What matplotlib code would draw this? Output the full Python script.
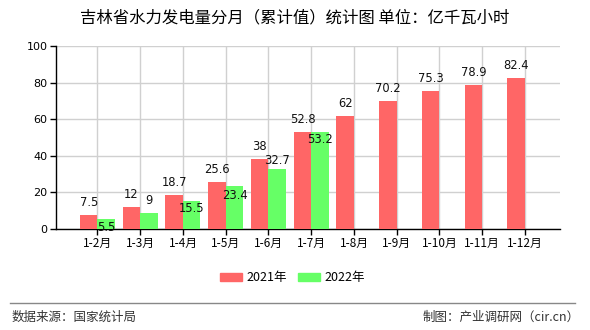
import matplotlib
matplotlib.use("Agg")
import matplotlib.pyplot as plt
import numpy as np
from matplotlib.patches import Rectangle
from matplotlib.lines import Line2D

plt.rcParams['font.family'] = ['Noto Sans CJK SC', 'DejaVu Sans']

# Data: cumulative hydropower generation, 100 million kWh
categories = ["1-2月", "1-3月", "1-4月", "1-5月", "1-6月", "1-7月",
              "1-8月", "1-9月", "1-10月", "1-11月", "1-12月"]
values_2021 = [7.5, 12, 18.7, 25.6, 38, 52.8, 62, 70.2, 75.3, 78.9, 82.4]
values_2022 = [5.5, 9, 15.5, 23.4, 32.7, 53.2]
series_names = ["2021年", "2022年"]
yticks = [0, 20, 40, 60, 80, 100]

# Label placement (points, positive = above bar top) to keep labels apart
off_2021 = [12] * len(values_2021)
off_2022 = [-8, 12, -8, -9, 8, -8]

RED = "#ff6666"
GREEN = "#66ff66"

fig = plt.figure(figsize=(5.9, 3.3), dpi=100)
W, H = 590, 330
ax = fig.add_axes([56 / W, 1 - 229 / H, (560 - 56) / W, (229 - 46) / H])

x = np.arange(len(categories))
bw = 0.41
ax.bar(x[:len(values_2021)] - bw / 2, values_2021, bw, color=RED, zorder=3)
ax.bar(x[:len(values_2022)] + bw / 2, values_2022, bw, color=GREEN, zorder=3)

for xi, v, o in zip(x, values_2021, off_2021):
    ax.annotate(f"{v:g}", (xi - bw / 2, v), xytext=(0, o * 0.75),
                textcoords="offset points", ha="center", va="center",
                fontsize=8.3, family="DejaVu Sans", color="#111111", zorder=5)
for xi, v, o in zip(x, values_2022, off_2022):
    ax.annotate(f"{v:g}", (xi + bw / 2, v), xytext=(0, o * 0.75),
                textcoords="offset points", ha="center", va="center",
                fontsize=8.3, family="DejaVu Sans", color="#111111", zorder=5)

ax.set_xlim(-0.97, 10.82)
ax.set_ylim(0, 100)
ax.set_yticks(yticks)
ax.set_yticklabels([str(t) for t in yticks], fontsize=8, family="DejaVu Sans")
ax.set_xticks(x)
ax.set_xticklabels(categories, fontsize=8.5)
ax.grid(True, color="#d0d0d0", linewidth=1, zorder=0)
ax.set_axisbelow(True)
for s in ["top", "right"]:
    ax.spines[s].set_visible(False)
for s in ["left", "bottom"]:
    ax.spines[s].set_color("#000000")
    ax.spines[s].set_linewidth(1)
ax.tick_params(axis="both", length=4, width=1, color="#000000", pad=2)

fig.text(295 / W, 1 - 18 / H, "吉林省水力发电量分月（累计值）统计图 单位：亿千瓦小时",
         ha="center", va="center", fontsize=11.8, color="#000000")

# Legend
ly = 1 - 277 / H
fig.add_artist(Rectangle((220 / W, 1 - 281 / H), 22 / W, 8 / H,
                         transform=fig.transFigure, color=RED))
fig.text(246 / W, ly, series_names[0], ha="left", va="center", fontsize=9)
fig.add_artist(Rectangle((298 / W, 1 - 281 / H), 22 / W, 8 / H,
                         transform=fig.transFigure, color=GREEN))
fig.text(324 / W, ly, series_names[1], ha="left", va="center", fontsize=9)

# Footer
fig.add_artist(Line2D([10 / W, 575 / W], [1 - 303 / H, 1 - 303 / H],
                      transform=fig.transFigure, color="#888888", linewidth=1))
fig.text(12 / W, 1 - 317 / H, "数据来源：国家统计局", ha="left", va="center",
         fontsize=9, color="#333333")
fig.text(580 / W, 1 - 317 / H, "制图：产业调研网（cir.cn）", ha="right", va="center",
         fontsize=9, color="#333333")

fig.savefig("out.png", dpi=100)
